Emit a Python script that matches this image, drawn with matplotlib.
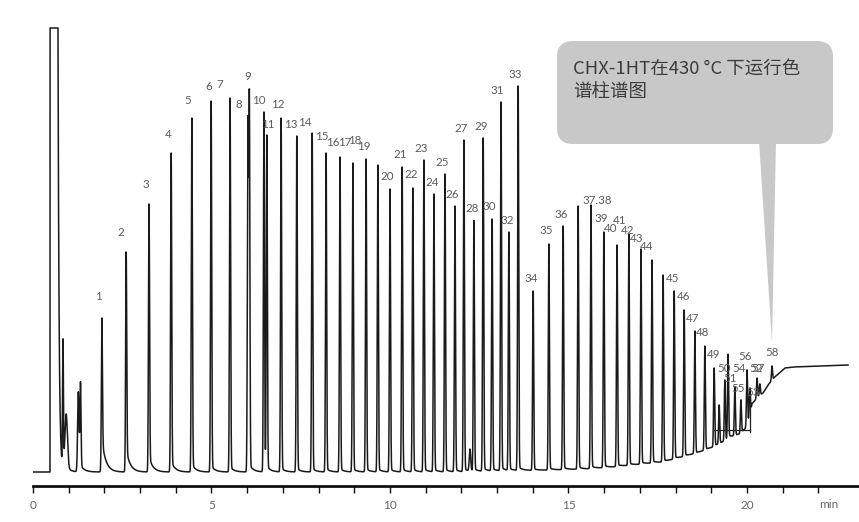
import numpy as np
import matplotlib.pyplot as plt
from matplotlib.patches import FancyBboxPatch, Polygon

plt.rcParams['font.family'] = ['Lato', 'DejaVu Sans']

# peak table (retention time in min, apex signal)
names = ['1', '2', '3', '4', '5', '6', '7', '8', '9', '10',
         '11', '12', '13', '14', '15', '16', '17', '18', '19', '20',
         '21', '22', '23', '24', '25', '26', '27', '28', '29', '30',
         '31', '32', '33', '34', '35', '36', '37.38', '', '39', '40',
         '41', '42', '43', '44', '45', '46', '47', '48', '49',
         '50', '51', '55', '54', '56', '53', '52', '57', '58']
rt = [1.93, 2.61, 3.25, 3.87, 4.45, 4.99, 5.52, 6.02, 6.06, 6.47,
      6.55, 6.95, 7.39, 7.82, 8.21, 8.60, 8.96, 9.33, 9.66, 10.00,
      10.34, 10.64, 10.95, 11.23, 11.54, 11.82, 12.07, 12.35, 12.61, 12.86,
      13.11, 13.33, 13.59, 14.01, 14.45, 14.85, 15.27, 15.63, 15.99, 16.36,
      16.69, 17.03, 17.34, 17.65, 17.96, 18.24, 18.54, 18.82, 19.08,
      19.22, 19.38, 19.66, 19.83, 20.00, 20.08, 20.28, 20.36, 20.70]
apex = [154, 220, 268, 319, 354, 371, 374, 355, 382, 360,
        337, 354, 336, 339, 319, 315, 309, 313, 307, 283,
        305, 284, 312, 278, 298, 266, 332, 251, 334, 253,
        370, 240, 386, 181, 228, 246, 266, 267, 240, 227,
        238, 223, 212, 197, 181, 162, 141, 126, 104,
        67, 92, 84, 72, 102, 84, 94, 88, 106]
# label offsets from the apex, in pixels
label_dx = [-4, -5, -3, -3, -4, -2, -10, -9, -2, -5,
            1, -3, -6, -7, -4, -7, -8, -11, -14, -3,
            -2, -2, -3, -2, -3, -3, -3, -2, -2, -3,
            -4, -2, -3, -2, -3, -2, 19, 0, -3, -6,
            -9, -13, -15, -17, -2, -1, -2, -2, -1,
            5, 5, 3, -2, -2, 3, -1, -2, 0]
label_dy = [22, 19, 19, 18, 17, 14, 13, 13, 14, 12,
            11, 14, 11, 11, 16, 15, 20, 19, 19, 12,
            12, 14, 12, 12, 12, 12, 12, 13, 12, 13,
            12, 12, 12, 12, 13, 12, 6, 0, 13, 17,
            13, 19, 22, 28, 13, 13, 13, 13, 13,
            37, 1, -1, 32, 13, -4, 9, 15, 13]

# unlabelled features near the solvent front and in the tail cluster
extra_rt = [0.84, 0.93, 1.27, 1.33, 12.24, 19.47]
extra_apex = [127, 55, 80, 87, 22, 85]
extra_sigma = [0.012, 0.035, 0.02, 0.015, 0.02, 0.015]

solvent_start, solvent_end, solvent_top = 0.476, 0.70, 444

base_t = [0, 12.0, 13.0, 14.5, 15.5, 16.25, 17.65, 18.6, 19.05, 19.2,
          19.5, 19.8, 20.0, 20.1, 20.14, 20.31, 20.45, 20.59, 20.78, 21.06,
          21.3, 22.83]
base_v = [0, 0, 1, 2, 3, 5, 10, 19, 25, 28,
          33, 38, 45, 60, 68, 75, 79, 87, 95, 104,
          105, 107]

# build the trace
t = np.linspace(0, 22.83, 80000)
base = np.interp(t, base_t, base_v)


def peak_shape(tt, t0, sigma, tail, tau=0.11):
    dt = tt - t0
    g = np.exp(-0.5 * (dt / sigma) ** 2)
    tl = np.where(dt >= 0, np.exp(-np.clip(dt, 0, None) / tau), 0.0)
    return np.where(dt < 0, g, (1 - tail) * g + tail * tl)


rt_a = np.array(rt)
tails = 0.2 * np.exp(-(rt_a - 1.93) / 0.9) + 0.01
shapes_at_apex = np.array([peak_shape(rt_a, t0, 0.015, tl) for t0, tl in zip(rt_a, tails)])
h = np.array(apex) - np.interp(rt_a, base_t, base_v)
target = h.copy()
for _ in range(4):
    h = h + (target - shapes_at_apex.T @ h)

sig = base.copy()
for t0, hh, tl in zip(rt_a, h, tails):
    sig += hh * peak_shape(t, t0, 0.015, tl)
for t0, a, s in zip(extra_rt, extra_apex, extra_sigma):
    sig += a * peak_shape(t, t0, s, 0.05)

in_solvent = (t >= solvent_start) & (t <= solvent_end)
sig[in_solvent] = solvent_top
after = t > solvent_end
sig[after] += solvent_top * np.exp(-(t[after] - solvent_end) / 0.03)

fig = plt.figure(figsize=(8.59, 5.22), dpi=100)
ax = fig.add_axes([33 / 859, 36 / 522, 826 / 859, 466 / 522])
ax.plot(t, sig, color='#1a1a1a', lw=1.1)

# integration marks in the tail cluster
ax.plot([19.05, 20.08], [42, 42], color='#222222', lw=0.9)
ax.plot([20.08, 20.08], [40, 67], color='#222222', lw=0.9)

for n, t0, a, dx, dy in zip(names, rt, apex, label_dx, label_dy):
    if n:
        ax.annotate(n, (t0, a), xytext=(dx, dy), textcoords='offset pixels',
                    ha='center', va='center', fontsize=8.3, color='#5a5a5a')

ax.set_xlim(0, 826 / 35.7)
ax.set_ylim(-14, 452)
for s in ['left', 'right', 'top']:
    ax.spines[s].set_visible(False)
ax.spines['bottom'].set_linewidth(2)
ax.spines['bottom'].set_color('#111111')
ax.set_yticks([])
ax.set_xticks([0, 5, 10, 15, 20])
ax.set_xticks(range(23), minor=True)
ax.tick_params(axis='x', which='both', length=5, width=1, color='#111111')
ax.tick_params(axis='x', which='major', labelsize=8.5, labelcolor='#666666', pad=5)
fig.text(829 / 859, 1 - 505 / 522, 'min', fontsize=8.5, color='#666666',
         ha='center', va='center')

# callout
ov = fig.add_axes([0, 0, 1, 1], zorder=5)
ov.set_xlim(0, 859)
ov.set_ylim(522, 0)
ov.axis('off')
r = 16
ov.add_patch(FancyBboxPatch((557 + r, 41 + r), 276 - 2 * r, 103 - 2 * r,
                            boxstyle='round,pad=%d' % r, fc='#c8c8c8', ec='none'))
ov.add_patch(Polygon([(759, 140), (776, 140), (772, 343)], closed=True,
                     fc='#c8c8c8', ec='none'))
cjk = ['Noto Sans CJK SC', 'DejaVu Sans']
ov.text(573, 69, 'CHX-1HT在430 °C 下运行色', family=cjk, fontsize=13.3,
        color='#3c3c3c', va='center', ha='left')
ov.text(573, 92, '谱柱谱图', family=cjk, fontsize=13.3,
        color='#3c3c3c', va='center', ha='left')

fig.savefig('out.png', dpi=100)
